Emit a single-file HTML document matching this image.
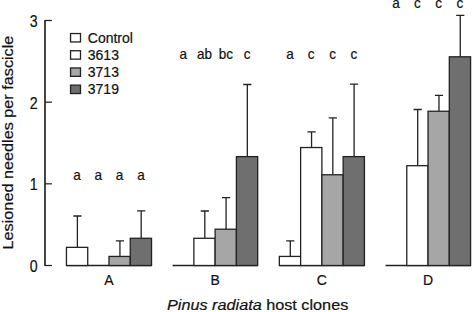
<!DOCTYPE html>
<html><head><meta charset="utf-8"><title>Lesioned needles per fascicle</title>
<style>html,body{margin:0;padding:0;background:#fff;width:472px;height:312px;overflow:hidden}svg{display:block}</style>
</head><body>
<svg width="472" height="312" viewBox="0 0 472 312">
<style>text{font-family:"Liberation Sans",sans-serif;fill:#111;stroke:#111;stroke-width:0.2px}</style>
<rect width="472" height="312" fill="#fff"/>
<path d="M45 19.9V266.1" stroke="#1a1a1a" stroke-width="1.6" fill="none"/>
<g stroke="#1a1a1a" stroke-width="1.2" fill="none">
<path d="M45 265.5H51.9"/>
<path d="M45 183.83H51.9"/>
<path d="M45 102.17H51.9"/>
<path d="M45 20.5H51.9"/>
</g>
<g font-family="Liberation Sans, sans-serif" font-size="16.3" fill="#111" text-anchor="end">
<text transform="translate(37.6 271.8) scale(0.873 1)">0</text>
<text transform="translate(37.6 190.13) scale(0.873 1)">1</text>
<text transform="translate(37.6 108.67) scale(0.873 1)">2</text>
<text transform="translate(37.6 27) scale(0.873 1)">3</text>
</g>
<path d="M66.45 265.5H151.53" stroke="#222" stroke-width="1.3"/>
<path d="M77.39 247.35V216M73.29 216H81.48" stroke="#222" stroke-width="1.3"/>
<rect x="66.45" y="247.35" width="21.27" height="18.15" fill="#ffffff" stroke="#222" stroke-width="1.3"/>
<path d="M119.93 256.43V240.8M115.83 240.8H124.03" stroke="#222" stroke-width="1.3"/>
<rect x="108.99" y="256.43" width="21.27" height="9.07" fill="#a6a6a6" stroke="#222" stroke-width="1.3"/>
<path d="M141.19 238.28V210.8M137.09 210.8H145.29" stroke="#222" stroke-width="1.3"/>
<rect x="130.26" y="238.28" width="21.27" height="27.22" fill="#6f6f6f" stroke="#222" stroke-width="1.3"/>
<path d="M172.6 265.5H257.68" stroke="#222" stroke-width="1.3"/>
<path d="M204.81 238.28V211M200.71 211H208.91" stroke="#222" stroke-width="1.3"/>
<rect x="193.87" y="238.28" width="21.27" height="27.22" fill="#ffffff" stroke="#222" stroke-width="1.3"/>
<path d="M226.07 229.2V197.7M221.97 197.7H230.17" stroke="#222" stroke-width="1.3"/>
<rect x="215.14" y="229.2" width="21.27" height="36.3" fill="#a6a6a6" stroke="#222" stroke-width="1.3"/>
<path d="M247.34 156.61V84.5M243.25 84.5H251.44" stroke="#222" stroke-width="1.3"/>
<rect x="236.41" y="156.61" width="21.27" height="108.89" fill="#6f6f6f" stroke="#222" stroke-width="1.3"/>
<path d="M279.35 265.5H364.43" stroke="#222" stroke-width="1.3"/>
<path d="M290.29 256.43V240.9M286.19 240.9H294.39" stroke="#222" stroke-width="1.3"/>
<rect x="279.35" y="256.43" width="21.27" height="9.07" fill="#ffffff" stroke="#222" stroke-width="1.3"/>
<path d="M311.56 147.54V131.8M307.45 131.8H315.66" stroke="#222" stroke-width="1.3"/>
<rect x="300.62" y="147.54" width="21.27" height="117.96" fill="#ffffff" stroke="#222" stroke-width="1.3"/>
<path d="M332.83 174.76V117.9M328.73 117.9H336.93" stroke="#222" stroke-width="1.3"/>
<rect x="321.89" y="174.76" width="21.27" height="90.74" fill="#a6a6a6" stroke="#222" stroke-width="1.3"/>
<path d="M354.1 156.61V84.2M350 84.2H358.2" stroke="#222" stroke-width="1.3"/>
<rect x="343.16" y="156.61" width="21.27" height="108.89" fill="#6f6f6f" stroke="#222" stroke-width="1.3"/>
<path d="M385.5 265.5H470.58" stroke="#222" stroke-width="1.3"/>
<path d="M417.7 165.69V109.5M413.6 109.5H421.81" stroke="#222" stroke-width="1.3"/>
<rect x="406.77" y="165.69" width="21.27" height="99.81" fill="#ffffff" stroke="#222" stroke-width="1.3"/>
<path d="M438.98 111.24V95.4M434.88 95.4H443.08" stroke="#222" stroke-width="1.3"/>
<rect x="428.04" y="111.24" width="21.27" height="154.26" fill="#a6a6a6" stroke="#222" stroke-width="1.3"/>
<path d="M460.25 56.8V15.45M456.14 15.45H464.35" stroke="#222" stroke-width="1.3"/>
<rect x="449.31" y="56.8" width="21.27" height="208.7" fill="#6f6f6f" stroke="#222" stroke-width="1.3"/>
<g font-family="Liberation Sans, sans-serif" font-size="14" fill="#111" text-anchor="middle">
<text transform="translate(77.09 180) scale(0.965 1)">a</text>
<text transform="translate(98.36 180) scale(0.965 1)">a</text>
<text transform="translate(119.63 180) scale(0.965 1)">a</text>
<text transform="translate(140.89 180) scale(0.965 1)">a</text>
<text transform="translate(183.23 59) scale(0.965 1)">a</text>
<text transform="translate(204.5 59) scale(0.965 1)">ab</text>
<text transform="translate(225.77 59) scale(0.965 1)">bc</text>
<text transform="translate(247.04 59) scale(0.965 1)">c</text>
<text transform="translate(289.99 59) scale(0.965 1)">a</text>
<text transform="translate(311.25 59) scale(0.965 1)">c</text>
<text transform="translate(332.53 59) scale(0.965 1)">c</text>
<text transform="translate(353.8 59) scale(0.965 1)">c</text>
<text transform="translate(396.13 8.3) scale(0.965 1)">a</text>
<text transform="translate(417.4 8.3) scale(0.965 1)">c</text>
<text transform="translate(438.68 8.3) scale(0.965 1)">c</text>
<text transform="translate(459.94 8.3) scale(0.965 1)">c</text>
</g>
<g font-family="Liberation Sans, sans-serif" font-size="14" fill="#111" text-anchor="middle">
<text x="108.99" y="284.5">A</text>
<text x="215.14" y="284.5">B</text>
<text x="321.89" y="284.5">C</text>
<text x="428.04" y="284.5">D</text>
</g>
<text transform="translate(257.65 309.7) scale(1.12 1)" font-family="Liberation Sans, sans-serif" font-size="14.5" fill="#111" text-anchor="middle"><tspan font-style="italic">Pinus radiata</tspan> host clones</text>
<text transform="translate(12.5 142.55) rotate(-90) scale(1.048 1)" font-family="Liberation Sans, sans-serif" font-size="15.5" fill="#111" text-anchor="middle">Lesioned needles per fascicle</text>
<rect x="70.55" y="33.55" width="9.95" height="8.4" fill="#ffffff" stroke="#222" stroke-width="1.3"/>
<text x="87.8" y="37.75" dy="0.36em" font-family="Liberation Sans, sans-serif" font-size="14" fill="#111">Control</text>
<rect x="70.55" y="50.75" width="9.95" height="8.4" fill="#ffffff" stroke="#222" stroke-width="1.3"/>
<text x="87.8" y="54.95" dy="0.36em" font-family="Liberation Sans, sans-serif" font-size="14" fill="#111">3613</text>
<rect x="70.55" y="67.95" width="9.95" height="8.4" fill="#a6a6a6" stroke="#222" stroke-width="1.3"/>
<text x="87.8" y="72.15" dy="0.36em" font-family="Liberation Sans, sans-serif" font-size="14" fill="#111">3713</text>
<rect x="70.55" y="85.15" width="9.95" height="8.4" fill="#6f6f6f" stroke="#222" stroke-width="1.3"/>
<text x="87.8" y="89.35" dy="0.36em" font-family="Liberation Sans, sans-serif" font-size="14" fill="#111">3719</text>
</svg>
</body></html>
